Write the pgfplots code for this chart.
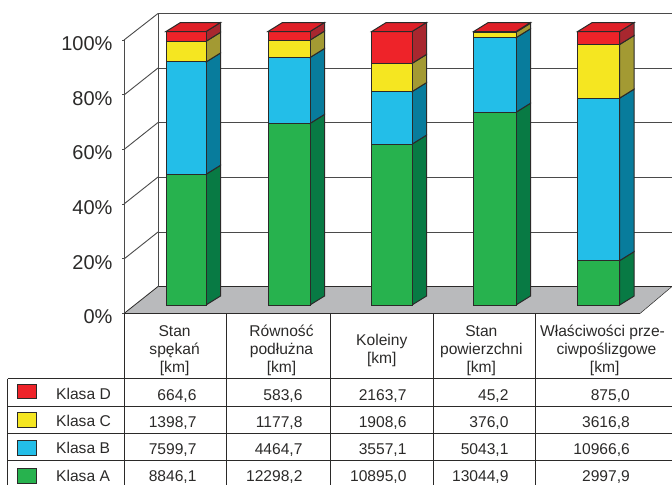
\documentclass[border=0pt]{standalone}
\usepackage{pgfplots}
\pgfplotsset{compat=1.18}
\usepackage{fontspec}
\setmainfont{Liberation Sans}

\definecolor{ink}{HTML}{2B2A29}
\definecolor{gridline}{HTML}{4A4A4A}
\definecolor{floorgray}{HTML}{B9BABC}
\definecolor{redF}{HTML}{EE2329}
\definecolor{redT}{HTML}{E02028}
\definecolor{redS}{HTML}{A8272F}
\definecolor{yelF}{HTML}{F5E621}
\definecolor{yelS}{HTML}{A39A33}
\definecolor{bluF}{HTML}{23BEE8}
\definecolor{bluS}{HTML}{087C9C}
\definecolor{greF}{HTML}{27B24E}
\definecolor{greS}{HTML}{087A44}

% depth of a bar: horizontal run, and rise in percent units
\def\depthx{14.5}
\def\depthy{3.29}

% one stacked segment: left, right, lower %, upper %, front colour, side colour
\newcommand{\barseg}[6]{%
  \pgfmathsetmacro{\xb}{#2+\depthx}%
  \pgfmathsetmacro{\lob}{#3+\depthy}%
  \pgfmathsetmacro{\hib}{#4+\depthy}%
  \addplot[fill=#6,draw=ink,line width=1pt] coordinates {(#2,#3)(\xb,\lob)(\xb,\hib)(#2,#4)} --cycle;
  \addplot[fill=#5,draw=ink,line width=1pt] coordinates {(#1,#3)(#2,#3)(#2,#4)(#1,#4)} --cycle;
}

% a 100% column from the four lengths in km: left, right, A, B, C, D
% (sums are taken in thousands of km to stay inside the range of pgfmath)
\newcommand{\column}[6]{%
  \pgfmathsetmacro{\tot}{#3/1000+#4/1000+#5/1000+#6/1000}%
  \pgfmathsetmacro{\ca}{100*(#3/1000)/\tot}%
  \pgfmathsetmacro{\cb}{100*(#3/1000+#4/1000)/\tot}%
  \pgfmathsetmacro{\cc}{100*(#3/1000+#4/1000+#5/1000)/\tot}%
  \barseg{#1}{#2}{0}{\ca}{greF}{greS}
  \barseg{#1}{#2}{\ca}{\cb}{bluF}{bluS}
  \barseg{#1}{#2}{\cb}{\cc}{yelF}{yelS}
  \barseg{#1}{#2}{\cc}{100}{redF}{redS}
  \pgfmathsetmacro{\xb}{#2+\depthx}%
  \pgfmathsetmacro{\xc}{#1+\depthx}%
  \pgfmathsetmacro{\hib}{100+\depthy}%
  \addplot[fill=redT,draw=ink,line width=1pt] coordinates {(#1,100)(#2,100)(\xb,\hib)(\xc,\hib)} --cycle;
}

\newcommand{\cellfont}{\fontsize{15.6}{18}\selectfont\color{ink}}

\begin{document}
\begin{tikzpicture}[x=1pt,y=-1pt]
\useasboundingbox (0,0) rectangle (672,485);

% floor, back wall and the lines running round it
\fill[floorgray] (124,313.5) -- (158,286.5) -- (672,286.5) -- (640,313.5) -- cycle;
\draw[ink,line width=0.8pt] (124,313.5) -- (158,286.5) -- (672,286.5);
\draw[ink,line width=0.5pt] (640,313.5) -- (672,286.5);
\draw[gridline,line width=1pt] (158,13.5) -- (158,286.5);
\foreach \p/\q in {13.5/40,68/95,122.5/149.5,177/204,232/259}{
  \draw[gridline,line width=1pt] (158,\p) -- (672,\p);
  \draw[gridline,line width=0.9pt] (124,\q) -- (158,\p);
}

% percentage scale on the front edge
\begin{axis}[
  at={(124pt,-313.5pt)}, anchor=south west,
  scale only axis, width=548pt, height=273.5pt,
  xmin=124, xmax=672, ymin=0, ymax=100,
  axis x line=none, axis y line=left,
  axis line style={-,gridline,line width=1pt},
  xtick=\empty,
  ytick={0,20,40,60,80,100},
  tick style={gridline,line width=0.9pt},
  major tick length=2pt,
  tick align=outside,
  /pgf/number format/assume math mode=true,
  yticklabel={\pgfmathprintnumber{\tick}\%},
  yticklabel style={font=\fontsize{20}{24}\selectfont,text=ink,yshift=-3.5pt,xshift=-6pt},
]
\addplot[draw=none] coordinates {(124,0)(124,100)};
\end{axis}

% the stacked columns
\begin{axis}[
  at={(0pt,-305pt)}, anchor=south west,
  scale only axis, width=672pt, height=273.5pt,
  xmin=0, xmax=672, ymin=0, ymax=100,
  hide axis, clip=false,
]
\column{166}{206}{8846.1}{7599.7}{1398.7}{664.6}
\column{268}{310}{12298.2}{4464.7}{1177.8}{583.6}
\column{371.7}{412}{10895.0}{3557.1}{1908.6}{2163.7}
\column{473.7}{516}{13044.9}{5043.1}{376.0}{45.2}
\column{577.7}{619.7}{2997.9}{10966.6}{3616.8}{875.0}
\end{axis}

% table rules
\begin{scope}[ink,line width=1pt]
  \draw (124,313.5) -- (640,313.5);
  \draw (124,313.5) -- (124,485);
  \draw (226,313.5) -- (226,485);
  \draw (330,313.5) -- (330,485);
  \draw (433.7,313.5) -- (433.7,485);
  \draw (535.4,313.5) -- (535.4,485);
  \draw (7.5,378.7) -- (7.5,485);
  \foreach \r in {378.7,406,433.7,460}{\draw (7.5,\r) -- (672,\r);}
\end{scope}

% column headings
\begin{scope}[every node/.style={anchor=base,inner sep=0pt,font=\cellfont}]
  \node at (174.6,336) {Stan};
  \node at (174.6,354) {spękań};
  \node at (174.6,372) {[km]};
  \node at (281.5,336) {Równość};
  \node at (281.5,354) {podłużna};
  \node at (281.5,372) {[km]};
  \node at (381.8,345) {Koleiny};
  \node at (381.8,363) {[km]};
  \node at (481.3,336) {Stan};
  \node at (481.3,354) {powierzchni};
  \node at (481.3,372) {[km]};
  \node at (602.5,336) {Właściwości prze-};
  \node at (606.5,354) {ciwpoślizgowe};
  \node at (604.7,372) {[km]};
\end{scope}

% legend column
\begin{scope}[every node/.style={anchor=base west,inner sep=0pt,font=\cellfont}]
  \node at (56,399) {Klasa D};
  \node at (56,426) {Klasa C};
  \node at (56,453) {Klasa B};
  \node at (56,481.5) {Klasa A};
\end{scope}
\begin{scope}[draw=ink,line width=0.9pt]
  \filldraw[fill=redF] (17,384) rectangle (36,398.7);
  \filldraw[fill=yelF] (17,412.3) rectangle (36,427);
  \filldraw[fill=bluF] (17,440) rectangle (36,455);
  \filldraw[fill=greF] (17,468.7) rectangle (36,483);
\end{scope}

% values, right aligned within each column
\begin{scope}[every node/.style={anchor=base east,inner sep=0pt,font=\cellfont}]
  \node at (196.7,400) {664,6};
  \node at (196.7,427) {1398,7};
  \node at (196.7,454) {7599,7};
  \node at (196.7,481) {8846,1};
  \node at (302.7,400) {583,6};
  \node at (302.7,427) {1177,8};
  \node at (302.7,454) {4464,7};
  \node at (302.7,481) {12298,2};
  \node at (406.7,400) {2163,7};
  \node at (406.7,427) {1908,6};
  \node at (406.7,454) {3557,1};
  \node at (406.7,481) {10895,0};
  \node at (508.7,400) {45,2};
  \node at (508.7,427) {376,0};
  \node at (508.7,454) {5043,1};
  \node at (508.7,481) {13044,9};
  \node at (630,400) {875,0};
  \node at (630,427) {3616,8};
  \node at (630,454) {10966,6};
  \node at (630,481) {2997,9};
\end{scope}
\end{tikzpicture}
\end{document}
